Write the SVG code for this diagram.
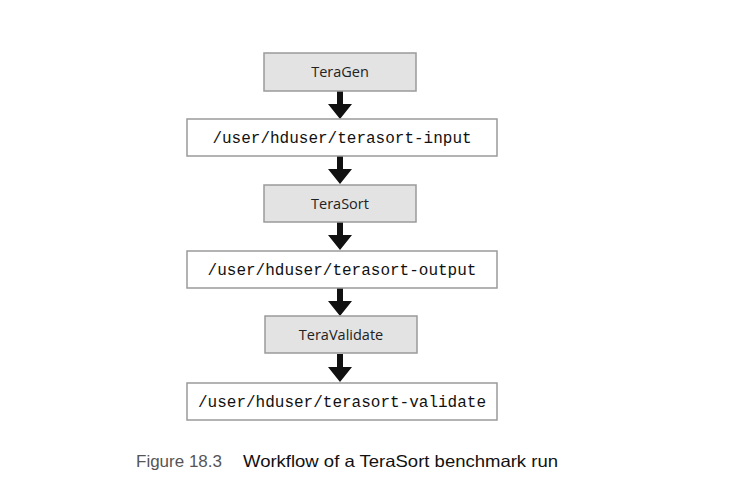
<svg xmlns="http://www.w3.org/2000/svg" width="734" height="494" viewBox="0 0 734 494">
<style>
.proc{fill:#e3e3e3;stroke:#9a9a9a;stroke-width:1.5}
.dir{fill:#ffffff;stroke:#9a9a9a;stroke-width:1.5}
.pt{font-family:"Open Sans","Liberation Sans",sans-serif;font-size:14.5px;fill:#222;text-anchor:middle}
.dt{font-family:"Liberation Mono","DejaVu Sans Mono",monospace;font-size:16px;fill:#111;text-anchor:middle}
.arr{fill:#111}
.cap{font-family:"Liberation Sans",Arial,sans-serif;font-size:16.5px}
</style>
<defs>
<path id="ar" d="M-3,0 H3 V13 H12 L0,28 L-12,13 H-3 Z"/>
</defs>
<rect width="734" height="494" fill="#ffffff"/>
<g id="connectors">
<use href="#ar" class="arr" x="340" y="91"/>
<use href="#ar" class="arr" x="340" y="156"/>
<use href="#ar" class="arr" x="340" y="222"/>
<use href="#ar" class="arr" x="340" y="288"/>
<use href="#ar" class="arr" x="340" y="354"/>
</g>
<g id="teragen"><rect class="proc" x="264" y="53" width="152" height="38"/><text class="pt" x="340" y="77">TeraGen</text></g>
<g id="input"><rect class="dir" x="187" y="119" width="310" height="37"/><text class="dt" x="342" y="143">/user/hduser/terasort-input</text></g>
<g id="terasort"><rect class="proc" x="264" y="185" width="152" height="37"/><text class="pt" x="340" y="209">TeraSort</text></g>
<g id="output"><rect class="dir" x="187" y="251" width="310" height="37"/><text class="dt" x="342" y="275">/user/hduser/terasort-output</text></g>
<g id="teravalidate"><rect class="proc" x="265" y="316" width="152" height="37"/><text class="pt" x="341" y="340">TeraValidate</text></g>
<g id="validate"><rect class="dir" x="187" y="383" width="310" height="37"/><text class="dt" x="342" y="407">/user/hduser/terasort-validate</text></g>
<text class="cap" x="136" y="467" fill="#555" textLength="86" lengthAdjust="spacingAndGlyphs">Figure 18.3</text>
<text class="cap" x="243" y="467" fill="#111" textLength="315" lengthAdjust="spacingAndGlyphs">Workflow of a TeraSort benchmark run</text>
</svg>
